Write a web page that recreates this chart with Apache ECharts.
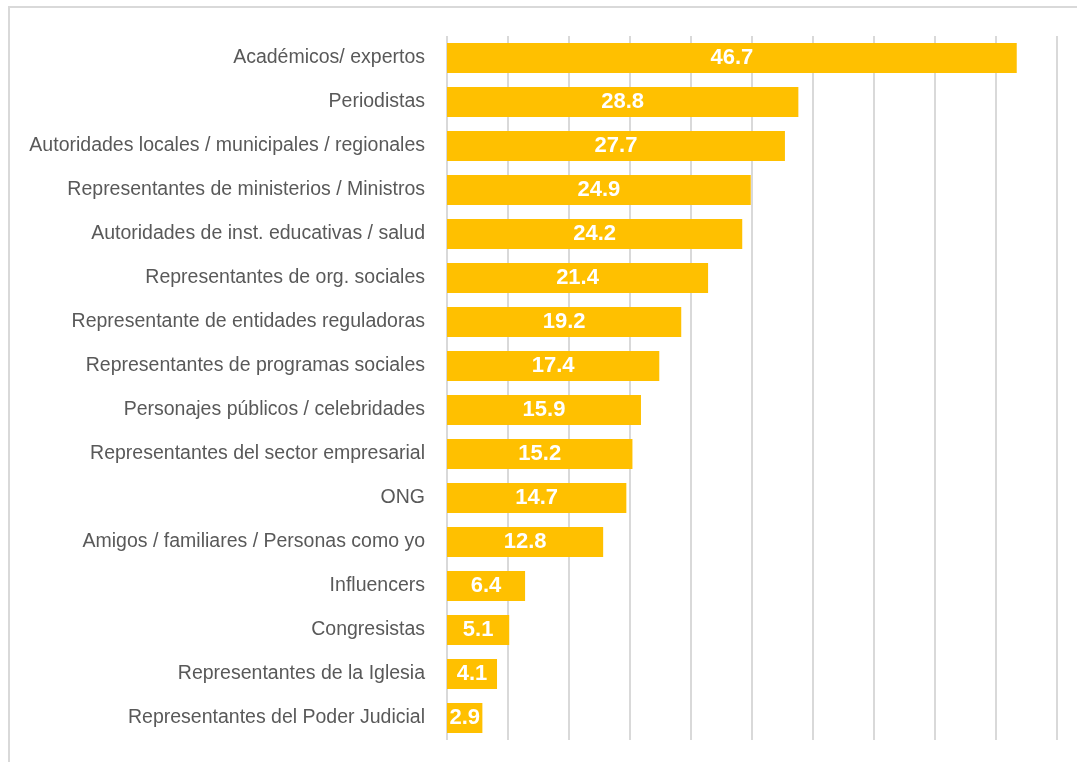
<!DOCTYPE html>
<html>
<head>
<meta charset="utf-8">
<script src="https://cdn.jsdelivr.net/npm/echarts@6/dist/echarts.min.js"></script>
<style>
html,body{margin:0;padding:0;background:#fff;}
#chart{width:1077px;height:762px;}
</style>
</head>
<body>
<div id="chart"></div>
<script>
const categories = [
  "Académicos/ expertos",
  "Periodistas",
  "Autoridades locales / municipales / regionales",
  "Representantes de ministerios / Ministros",
  "Autoridades de inst. educativas / salud",
  "Representantes de org. sociales",
  "Representante de entidades reguladoras",
  "Representantes de programas sociales",
  "Personajes públicos / celebridades",
  "Representantes del sector empresarial",
  "ONG",
  "Amigos / familiares / Personas como yo",
  "Influencers",
  "Congresistas",
  "Representantes de la Iglesia",
  "Representantes del Poder Judicial"
];
const values = [46.7, 28.8, 27.7, 24.9, 24.2, 21.4, 19.2, 17.4, 15.9, 15.2, 14.7, 12.8, 6.4, 5.1, 4.1, 2.9];

const chart = echarts.init(document.getElementById('chart'), null, {renderer: 'canvas'});
chart.setOption({
  animation: false,
  backgroundColor: '#ffffff',
  graphic: [{
    type: 'rect',
    shape: {x: 9, y: 7, width: 1100, height: 800},
    style: {fill: null, stroke: '#d9d9d9', lineWidth: 2},
    silent: true
  }],
  grid: {left: 447, top: 36, width: 610, height: 704, containLabel: false, outerBoundsMode: 'none'},
  xAxis: {
    type: 'value',
    min: 0, max: 50, interval: 5,
    axisLabel: {show: false},
    axisLine: {show: false},
    axisTick: {show: false},
    splitLine: {show: true, lineStyle: {color: '#d9d9d9', width: 2}}
  },
  yAxis: {
    type: 'category',
    inverse: true,
    data: categories,
    axisLine: {show: false},
    axisTick: {show: false},
    axisLabel: {
      color: '#595959',
      fontFamily: '"Liberation Sans", Arial, sans-serif',
      fontSize: 19.5,
      margin: 22
    }
  },
  series: [{
    type: 'bar',
    data: values,
    barCategoryGap: '32%',
    itemStyle: {color: '#FFC000'},
    label: {
      show: true,
      position: 'inside',
      color: '#ffffff',
      fontWeight: 'bold',
      fontFamily: '"Liberation Sans", Arial, sans-serif',
      fontSize: 22,
      formatter: function(p){ return p.value.toFixed(1); }
    }
  }]
});
</script>
</body>
</html>
